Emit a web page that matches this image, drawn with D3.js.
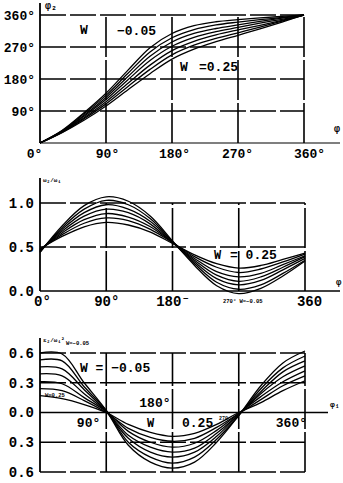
<!DOCTYPE html>
<html>
<head>
<meta charset="utf-8">
<script src="https://cdn.jsdelivr.net/npm/d3@7"></script>
<style>
  html, body { margin: 0; padding: 0; background: #fff; }
  svg { display: block; }
</style>
</head>
<body>
<svg id="chart" width="343" height="483"></svg>
<script>
// Input crank angle φ1 (degrees), shared by all three panels
const phi1 = [0, 30, 60, 90, 120, 150, 180, 210, 240, 270, 300, 330, 360];
const wValues = [-0.05, 0, 0.05, 0.10, 0.15, 0.20, 0.25];

// Output angle φ2 (degrees), one row per W
const phi2 = [
  [0, 35, 85, 140, 205, 268, 308, 330, 341, 347, 352, 356, 360],
  [0, 34, 82, 134, 196, 256, 296, 319, 332, 340, 347, 353, 360],
  [0, 33, 78, 128, 187, 244, 284, 308, 322, 332, 342, 351, 360],
  [0, 32, 75, 122, 178, 232, 272, 297, 313, 325, 337, 348, 360],
  [0, 31, 71, 116, 168, 219, 260, 286, 304, 318, 331, 345, 360],
  [0, 30, 68, 110, 159, 207, 248, 275, 294, 310, 326, 343, 360],
  [0, 29, 64, 104, 150, 195, 236, 264, 285, 303, 321, 340, 360]
];

// Velocity ratio ω2/ω1, one row per W
const omegaRatio = [
  [0.44, 0.74, 0.97, 1.07, 1.02, 0.85, 0.57, 0.29, 0.06, -0.03, 0.03, 0.17, 0.34],
  [0.44, 0.72, 0.93, 1.03, 0.98, 0.82, 0.56, 0.31, 0.10, 0.02, 0.07, 0.20, 0.35],
  [0.45, 0.70, 0.89, 0.98, 0.93, 0.79, 0.56, 0.33, 0.14, 0.07, 0.12, 0.24, 0.37],
  [0.46, 0.68, 0.85, 0.93, 0.89, 0.76, 0.55, 0.35, 0.18, 0.11, 0.16, 0.27, 0.39],
  [0.47, 0.66, 0.81, 0.88, 0.84, 0.73, 0.55, 0.37, 0.22, 0.16, 0.20, 0.30, 0.40],
  [0.47, 0.64, 0.77, 0.83, 0.80, 0.70, 0.55, 0.39, 0.27, 0.21, 0.25, 0.33, 0.42],
  [0.48, 0.62, 0.73, 0.78, 0.75, 0.67, 0.54, 0.41, 0.31, 0.26, 0.29, 0.36, 0.43]
];

// Angular acceleration ratio ε2/ω1², one row per W
const accelRatio = [
  [0.60, 0.59, 0.30, 0.02, -0.33, -0.50, -0.56, -0.50, -0.30, -0.03, 0.27, 0.50, 0.62],
  [0.53, 0.52, 0.26, 0.02, -0.30, -0.45, -0.51, -0.45, -0.27, -0.03, 0.24, 0.45, 0.57],
  [0.46, 0.44, 0.23, 0.01, -0.26, -0.40, -0.45, -0.40, -0.24, -0.02, 0.21, 0.41, 0.52],
  [0.39, 0.37, 0.19, 0.01, -0.23, -0.35, -0.40, -0.36, -0.21, -0.02, 0.19, 0.36, 0.47],
  [0.31, 0.29, 0.15, 0.01, -0.19, -0.30, -0.35, -0.31, -0.18, -0.01, 0.16, 0.31, 0.42],
  [0.24, 0.22, 0.12, 0.00, -0.16, -0.25, -0.29, -0.26, -0.15, -0.01, 0.13, 0.27, 0.37],
  [0.17, 0.14, 0.08, 0.00, -0.12, -0.20, -0.24, -0.21, -0.12, 0.00, 0.10, 0.22, 0.32]
];

// Tick values and their printed labels
const xGrid = [90, 180, 270, 360];
const yTicks1 = [360, 270, 180, 90];
const yLabels1 = ["360°", "270°", "180°", "90°"];
const xTicks1 = [0, 90, 180, 270, 360];
const xLabels1 = ["0°", "90°", "180°", "270°", "360°"];
const yTicks2 = [1.0, 0.5, 0.0];
const yLabels2 = ["1.0", "0.5", "0.0"];
const xTicks2 = [0, 90, 180, 360];
const xLabels2 = ["0°", "90°", "180⁻", "360"];
const yTicks3 = [0.6, 0.3, 0.0, -0.3, -0.6];
const yLabels3 = ["0.6", "0.3", "0.0", "0.3", "0.6"];

const FONT = "'Liberation Mono', 'DejaVu Sans Mono', monospace";
const svg = d3.select("#chart");

const curveGen = (xs, ys) => d3.line()
  .x((d, i) => xs(phi1[i]))
  .y(d => ys(d))
  .curve(d3.curveCatmullRom.alpha(0.5));

function hLine(g, xs, ys, v, dash, x1) {
  g.append("line")
    .attr("x1", xs(0)).attr("x2", x1 === undefined ? xs(360) : x1)
    .attr("y1", ys(v)).attr("y2", ys(v))
    .attr("stroke", "#000").attr("stroke-width", 1.5)
    .attr("stroke-dasharray", dash);
}
function vLine(g, xs, ys, v, a, b, dash) {
  g.append("line")
    .attr("x1", xs(v)).attr("x2", xs(v))
    .attr("y1", ys(a)).attr("y2", ys(b))
    .attr("stroke", "#000").attr("stroke-width", 1.6)
    .attr("stroke-dasharray", dash);
}
function label(g, x, y, txt, size, anchor, weight) {
  return g.append("text")
    .attr("x", x).attr("y", y)
    .attr("font-family", FONT)
    .attr("font-size", size)
    .attr("font-weight", weight || "bold")
    .attr("text-anchor", anchor || "start")
    .attr("dominant-baseline", "middle")
    .text(txt);
}
function styleAxis(g, size) {
  g.select(".domain").remove();
  g.selectAll("text")
    .attr("font-family", FONT)
    .attr("font-size", size)
    .attr("font-weight", "bold")
    .attr("fill", "#000");
}

/* ---------- Panel 1: φ2 against φ1 ---------- */
{
  const xs = d3.scaleLinear().domain([0, 360]).range([40, 304]);
  const ys = d3.scaleLinear().domain([0, 360]).range([143, 15]);
  const g = svg.append("g");

  yTicks1.forEach(v => hLine(g, xs, ys, v, "26,4"));
  xGrid.forEach(v => vLine(g, xs, ys, v, 0, 360, "40,3"));
  // axes
  g.append("line").attr("x1", xs(0)).attr("x2", xs(0))
    .attr("y1", ys(0)).attr("y2", 3).attr("stroke", "#000").attr("stroke-width", 1.8);
  g.append("line").attr("x1", xs(0)).attr("x2", 340)
    .attr("y1", ys(0)).attr("y2", ys(0)).attr("stroke", "#000").attr("stroke-width", 1.2);

  const line = curveGen(xs, ys);
  g.selectAll("path.c").data(phi2).join("path")
    .attr("class", "c").attr("d", line)
    .attr("fill", "none").attr("stroke", "#000").attr("stroke-width", 1.3);

  const ay = g.append("g").attr("transform", `translate(${xs(0)},0)`)
    .call(d3.axisLeft(ys).tickValues(yTicks1).tickSize(0).tickPadding(5)
      .tickFormat((d, i) => yLabels1[i]));
  styleAxis(ay, 13);

  const ax = g.append("g").attr("transform", `translate(0,${ys(0) + 4})`)
    .call(d3.axisBottom(xs).tickValues(xTicks1).tickSize(0).tickPadding(2)
      .tickFormat((d, i) => xLabels1[i]));
  styleAxis(ax, 13);
  ax.selectAll(".tick text").attr("dx", (d, i) => [-6, 1, 2, -1, 5][i]);

  label(g, 45, 6, "φ₂", 10);
  label(g, 334, 129, "φ", 10);
  label(g, 80, 31, "W", 13);
  label(g, 117, 32, "−0.05", 13);
  label(g, 180, 68, "W", 13);
  label(g, 199, 68, "=0.25", 13);
}

/* ---------- Panel 2: ω2/ω1 against φ1 ---------- */
{
  const xs = d3.scaleLinear().domain([0, 360]).range([40, 305]);
  const ys = d3.scaleLinear().domain([0, 1]).range([291, 203]);
  const g = svg.append("g");

  [1.0, 0.5].forEach(v => hLine(g, xs, ys, v, "26,4"));
  xGrid.forEach(v => vLine(g, xs, ys, v, 0, 1.0, "40,3"));
  g.append("line").attr("x1", xs(0)).attr("x2", xs(0))
    .attr("y1", ys(0)).attr("y2", 178).attr("stroke", "#000").attr("stroke-width", 1.8);
  g.append("line").attr("x1", xs(0)).attr("x2", 340)
    .attr("y1", ys(0)).attr("y2", ys(0)).attr("stroke", "#000").attr("stroke-width", 1.6);

  const line = curveGen(xs, ys);
  g.selectAll("path.c").data(omegaRatio).join("path")
    .attr("class", "c").attr("d", line)
    .attr("fill", "none").attr("stroke", "#000").attr("stroke-width", 1.3);

  const ay = g.append("g").attr("transform", `translate(${xs(0)},0)`)
    .call(d3.axisLeft(ys).tickValues(yTicks2).tickSize(0).tickPadding(6)
      .tickFormat((d, i) => yLabels2[i]));
  styleAxis(ay, 14);

  const ax = g.append("g").attr("transform", `translate(0,${ys(0) + 3})`)
    .call(d3.axisBottom(xs).tickValues(xTicks2).tickSize(0).tickPadding(2)
      .tickFormat((d, i) => xLabels2[i]));
  styleAxis(ax, 14);
  ax.selectAll(".tick text").attr("dx", (d, i) => [2, 0, 0, 4][i]);

  label(g, 43, 180, "ω₂/ω₁", 6);
  label(g, 336, 283, "φ", 9);
  label(g, 214, 256, "W", 12);
  label(g, 230, 256, "= 0.25", 13);
  label(g, 223, 302, "270°  W=−0.05", 5.5);
}

/* ---------- Panel 3: ε2/ω1² against φ1 ---------- */
{
  const xs = d3.scaleLinear().domain([0, 360]).range([40, 305]);
  const ys = d3.scaleLinear().domain([-0.6, 0.6]).range([472, 353]);
  const g = svg.append("g");

  [0.6, 0.3, -0.3, -0.6].forEach(v => hLine(g, xs, ys, v, "26,4"));
  xGrid.forEach(v => vLine(g, xs, ys, v, -0.6, 0.6, "40,3"));
  g.append("line").attr("x1", xs(0)).attr("x2", xs(0))
    .attr("y1", ys(-0.6)).attr("y2", 338).attr("stroke", "#000").attr("stroke-width", 1.8);
  g.append("line").attr("x1", xs(0)).attr("x2", 328)
    .attr("y1", ys(0)).attr("y2", ys(0)).attr("stroke", "#000").attr("stroke-width", 1.6);

  const line = curveGen(xs, ys);
  g.selectAll("path.c").data(accelRatio).join("path")
    .attr("class", "c").attr("d", line)
    .attr("fill", "none").attr("stroke", "#000").attr("stroke-width", 1.3);

  const ay = g.append("g").attr("transform", `translate(${xs(0)},0)`)
    .call(d3.axisLeft(ys).tickValues(yTicks3).tickSize(0).tickPadding(6)
      .tickFormat((d, i) => yLabels3[i]));
  styleAxis(ay, 14);

  label(g, xs(90) - 6, ys(0) + 11, "90°", 13, "end");
  label(g, xs(180) - 2, ys(0) - 9, "180°", 13, "end");
  label(g, xs(360) + 2, ys(0) + 11, "360°", 13, "end");

  label(g, 43, 340, "ε₂/ω₁²", 6);
  label(g, 330, 405, "φ₁", 8);
  label(g, 80, 369, "W = −0.05", 13);
  label(g, 147, 424, "W", 12);
  label(g, 182, 424, "0.25", 13);
  label(g, 219, 419, "270", 5);
  label(g, 66, 344, "W=−0.05", 5.5);
  label(g, 45, 396, "W=0.25", 5.5);
}
</script>
</body>
</html>
